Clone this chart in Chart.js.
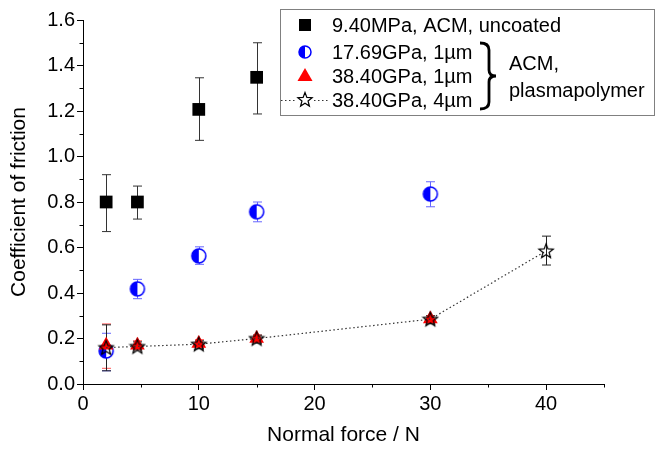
<!DOCTYPE html>
<html>
<head>
<meta charset="utf-8">
<script src="https://cdn.jsdelivr.net/npm/chart.js@4.4.1/dist/chart.umd.min.js"></script>
<style>
  html, body { margin: 0; padding: 0; background: #fff; }
  #wrap { width: 661px; height: 450px; }
</style>
</head>
<body>
<div id="wrap"><canvas id="chart"></canvas></div>
<script>
// --- dados ---
const xTicks = [0, 10, 20, 30, 40];
const yTicks = [0, 0.2, 0.4, 0.6, 0.8, 1.0, 1.2, 1.4, 1.6];

const sqX = [2, 4.7, 10, 15];
const sqY = [0.80, 0.80, 1.207, 1.348];
const sqLo = [0.67, 0.725, 1.071, 1.187];
const sqHi = [0.92, 0.87, 1.346, 1.50];

const ciX = [2, 4.7, 10, 15, 30];
const ciY = [0.145, 0.418, 0.563, 0.757, 0.835];
const ciLo = [0.058, 0.375, 0.526, 0.713, 0.779];
const ciHi = [0.223, 0.46, 0.603, 0.80, 0.889];

const trX = [2, 4.7, 10, 15, 30];
const trY = [0.17, 0.17, 0.178, 0.20, 0.286];
const trLo = [0.069, 0.15, 0.16, 0.185, 0.27];
const trHi = [0.264, 0.19, 0.195, 0.215, 0.30];

const stX = [2, 4.7, 10, 15, 30, 40];
const stY = [0.16, 0.165, 0.175, 0.20, 0.285, 0.585];
const stLo = [0.058, 0.15, 0.155, 0.18, 0.265, 0.523];
const stHi = [0.26, 0.185, 0.19, 0.215, 0.30, 0.65];

const legendLabels = ['9.40MPa, ACM, uncoated', '17.69GPa, 1\u00b5m', '38.40GPa, 1\u00b5m', '38.40GPa, 4\u00b5m'];
const groupLabel = ['ACM,', 'plasmapolymer'];

const FONT = "'Liberation Sans', Arial, sans-serif";

function toPoints(xs, ys, lo, hi) {
    return xs.map((x, i) => ({ x, y: ys[i], lo: lo[i], hi: hi[i] }));
}

// --- marcadores personalizados ---
function drawHalfCircle(ctx, cx, cy, r) {
    ctx.save();
    ctx.beginPath();
    ctx.arc(cx, cy, r, 0, Math.PI * 2);
    ctx.fillStyle = '#fff';
    ctx.fill();
    ctx.beginPath();
    ctx.arc(cx, cy, r, Math.PI / 2, Math.PI * 1.5);
    ctx.closePath();
    ctx.fillStyle = '#0000ff';
    ctx.fill();
    ctx.beginPath();
    ctx.arc(cx, cy, r, 0, Math.PI * 2);
    ctx.strokeStyle = '#0000ff';
    ctx.lineWidth = 1.5;
    ctx.stroke();
    ctx.restore();
}

function drawStar(ctx, cx, cy, ro, ri) {
    ctx.save();
    ctx.beginPath();
    for (let i = 0; i < 10; i++) {
        const r = i % 2 === 0 ? ro : ri;
        const a = -Math.PI / 2 + i * Math.PI / 5;
        const px = cx + r * Math.cos(a), py = cy + r * Math.sin(a);
        i === 0 ? ctx.moveTo(px, py) : ctx.lineTo(px, py);
    }
    ctx.closePath();
    ctx.strokeStyle = '#000';
    ctx.lineWidth = 1.2;
    ctx.stroke();
    ctx.restore();
}

function makeImg(size, fn) {
    const c = document.createElement('canvas');
    c.width = size; c.height = size;
    fn(c.getContext('2d'), size / 2);
    return c;
}
const halfCircleImg = makeImg(18, (ctx, m) => drawHalfCircle(ctx, m, m, 7));
const starImg = makeImg(18, (ctx, m) => drawStar(ctx, m, m + 0.5, 7.5, 3.2));

// --- barras de erro ---
const errorBars = {
    id: 'errorBars',
    beforeDatasetsDraw(chart) {
        const { ctx } = chart;
        const ys = chart.scales.y, xs = chart.scales.x;
        chart.data.datasets.slice().reverse().forEach(ds => {
            ctx.save();
            ctx.strokeStyle = ds.errColor;
            ctx.lineWidth = 1;
            ds.data.forEach(p => {
                const px = Math.round(xs.getPixelForValue(p.x)) + 0.5;
                const yl = ys.getPixelForValue(p.lo), yh = ys.getPixelForValue(p.hi);
                ctx.beginPath();
                ctx.moveTo(px, yl); ctx.lineTo(px, yh);
                ctx.moveTo(px - 4.5, yl); ctx.lineTo(px + 4.5, yl);
                ctx.moveTo(px - 4.5, yh); ctx.lineTo(px + 4.5, yh);
                ctx.stroke();
            });
            ctx.restore();
        });
    }
};

// --- ticks menores ---
const minorTicks = {
    id: 'minorTicks',
    afterDraw(chart) {
        const { ctx, chartArea: a } = chart;
        const xs = chart.scales.x, ys = chart.scales.y;
        ctx.save();
        ctx.strokeStyle = '#000';
        ctx.lineWidth = 1;
        ctx.beginPath();
        [5, 15, 25, 35, 45].forEach(v => {
            const px = Math.round(xs.getPixelForValue(v)) + 0.5;
            ctx.moveTo(px, a.bottom); ctx.lineTo(px, a.bottom + 3.5);
        });
        for (let v = 0.1; v < 1.6; v += 0.2) {
            const py = Math.round(ys.getPixelForValue(v)) + 0.5;
            ctx.moveTo(a.left, py); ctx.lineTo(a.left - 3.5, py);
        }
        ctx.stroke();
        ctx.restore();
    }
};

// --- legenda com chave ---
const customLegend = {
    id: 'customLegend',
    afterDraw(chart) {
        const { ctx } = chart;
        ctx.save();
        ctx.fillStyle = '#fff';
        ctx.fillRect(280.5, 9.5, 374, 106);
        ctx.strokeStyle = '#808080';
        ctx.lineWidth = 1;
        ctx.strokeRect(280.5, 9.5, 374, 106);

        const mx = 305, rows = [25, 52, 76, 100];
        // quadrado
        ctx.fillStyle = '#000';
        ctx.fillRect(mx - 6, rows[0] - 6, 12, 12);
        // círculo
        drawHalfCircle(ctx, mx, rows[1], 6);
        // triângulo
        ctx.beginPath();
        ctx.moveTo(mx, rows[2] - 8);
        ctx.lineTo(mx + 7.5, rows[2] + 5);
        ctx.lineTo(mx - 7.5, rows[2] + 5);
        ctx.closePath();
        ctx.fillStyle = '#ff0000';
        ctx.fill();
        // linha pontilhada + estrela
        ctx.strokeStyle = '#333';
        ctx.setLineDash([1.5, 2.5]);
        ctx.beginPath();
        ctx.moveTo(281, rows[3] + 0.5); ctx.lineTo(296, rows[3] + 0.5);
        ctx.moveTo(314, rows[3] + 0.5); ctx.lineTo(330, rows[3] + 0.5);
        ctx.stroke();
        ctx.setLineDash([]);
        drawStar(ctx, mx, rows[3], 7.5, 3.2);

        ctx.fillStyle = '#000';
        ctx.font = '20px ' + FONT;
        ctx.textBaseline = 'middle';
        legendLabels.forEach((t, i) => ctx.fillText(t, 332, rows[i] + 1));

        // chave
        ctx.strokeStyle = '#000';
        ctx.lineWidth = 2.8;
        ctx.beginPath();
        ctx.moveTo(480, 43);
        ctx.quadraticCurveTo(489, 43, 489, 50);
        ctx.lineTo(489, 70);
        ctx.quadraticCurveTo(489, 76, 496, 76);
        ctx.quadraticCurveTo(489, 76, 489, 82);
        ctx.lineTo(489, 102);
        ctx.quadraticCurveTo(489, 109, 480, 109);
        ctx.stroke();

        ctx.fillText(groupLabel[0], 509, 64);
        ctx.fillText(groupLabel[1], 509, 91);
        ctx.restore();
    }
};

new Chart(document.getElementById('chart'), {
    type: 'scatter',
    data: {
        datasets: [
            {
                label: legendLabels[3],
                data: toPoints(stX, stY, stLo, stHi),
                showLine: true,
                borderColor: '#333',
                borderWidth: 1.2,
                borderDash: [1.5, 2.5],
                pointStyle: starImg,
                errColor: '#222',
                order: 0
            },
            {
                label: legendLabels[2],
                data: toPoints(trX, trY, trLo, trHi),
                pointStyle: 'triangle',
                pointRadius: 8.5,
                backgroundColor: '#ff0000',
                borderColor: '#ff0000',
                borderWidth: 0,
                errColor: '#ff5555',
                order: 1
            },
            {
                label: legendLabels[1],
                data: toPoints(ciX, ciY, ciLo, ciHi),
                pointStyle: halfCircleImg,
                errColor: '#6666ff',
                order: 2
            },
            {
                label: legendLabels[0],
                data: toPoints(sqX, sqY, sqLo, sqHi),
                pointStyle: 'rect',
                pointRadius: 9,
                backgroundColor: '#000',
                borderColor: '#000',
                borderWidth: 0,
                errColor: '#333',
                order: 3
            }
        ]
    },
    options: {
        responsive: true,
        maintainAspectRatio: false,
        animation: false,
        layout: { padding: { top: 20, right: 57, left: 0, bottom: 0 } },
        plugins: { legend: { display: false }, tooltip: { enabled: false } },
        scales: {
            x: {
                type: 'linear', min: 0, max: 45,
                afterBuildTicks: s => { s.ticks = xTicks.map(v => ({ value: v })); },
                afterFit: s => { s.height = 66; },
                grid: { drawOnChartArea: false, drawTicks: true, tickLength: 6, color: '#000' },
                border: { display: true, color: '#000', width: 1 },
                ticks: { color: '#000', font: { family: FONT, size: 20 }, padding: 2, maxRotation: 0 },
                title: { display: true, text: 'Normal force / N', color: '#000', font: { family: FONT, size: 21 }, padding: { top: 0, bottom: 2 } }
            },
            y: {
                type: 'linear', min: 0, max: 1.6,
                afterBuildTicks: s => { s.ticks = yTicks.map(v => ({ value: v })); },
                afterFit: s => { s.width = 83; },
                grid: { drawOnChartArea: false, drawTicks: true, tickLength: 6, color: '#000' },
                border: { display: true, color: '#000', width: 1 },
                ticks: { color: '#000', font: { family: FONT, size: 20 }, padding: 2, callback: v => v.toFixed(1) },
                title: { display: true, text: 'Coefficient of friction', color: '#000', font: { family: FONT, size: 21 }, padding: { top: 7, bottom: 0 } }
            }
        }
    },
    plugins: [errorBars, minorTicks, customLegend]
});
</script>
</body>
</html>
